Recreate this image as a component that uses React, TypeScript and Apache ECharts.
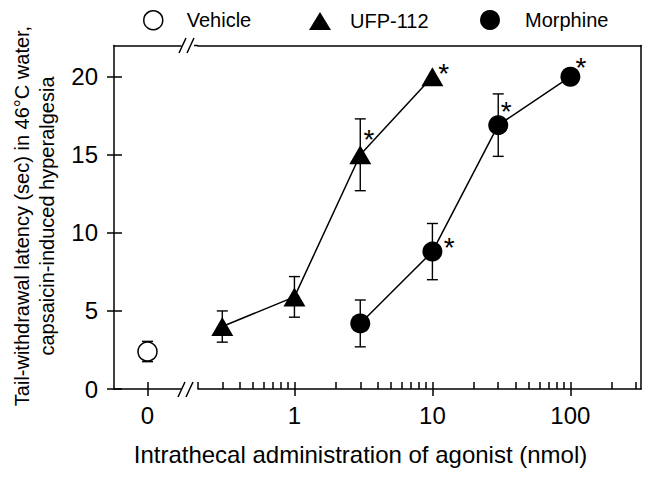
import React, { useEffect, useRef } from 'react';
import * as echarts from 'echarts';

// ---- data ----
const vehicleDose = [0];
const vehicleMean = [2.4];
const vehicleSem = [0.65];

const ufpDose = [0.3, 1, 3, 10];
const ufpMean = [4.0, 5.9, 15.0, 20.0];
const ufpSem = [1.0, 1.3, 2.3, 0];
const ufpSignificant = [false, false, true, true];

const morphineDose = [3, 10, 30, 100];
const morphineMean = [4.2, 8.8, 16.9, 20.0];
const morphineSem = [1.5, 1.8, 2.0, 0];
const morphineSignificant = [false, true, true, true];

// ---- ticks ----
const yTicks = [0, 5, 10, 15, 20];
const xBreakTicks = [0];
const xMajorTicks = [1, 10, 100];
const xMinorTicks = [
  0.2, 0.3, 0.4, 0.5, 0.6, 0.7, 0.8, 0.9,
  2, 3, 4, 5, 6, 7, 8, 9,
  20, 30, 40, 50, 60, 70, 80, 90,
  200, 300,
];

// ---- text ----
const yTitle = 'Tail-withdrawal latency (sec) in 46°C water,\ncapsaicin-induced hyperalgesia';
const xTitle = 'Intrathecal administration of agonist (nmol)';

// ---- styling (asterisk label offsets in px) ----
const ufpStarOffset = [[0, 0], [0, 0], [8.6, -15.5], [11.3, -3.5]];
const morphineStarOffset = [[0, 0], [16.7, -4], [8, -13.5], [10.7, -9.5]];

const FONT = '"Liberation Sans", Arial, Helvetica, sans-serif';
const BLACK = '#000';
const lineStyle = { color: BLACK, width: 1.5 };
const TICK_FONT = 24;

const errorBarItem = (params: any, api: any) => {
  const x = api.value(0);
  const lo = api.value(1);
  const hi = api.value(2);
  if (!(hi - lo > 0)) return { type: 'group', children: [] };
  const top = api.coord([x, hi]);
  const bot = api.coord([x, lo]);
  const w = 5.5;
  const style = { stroke: BLACK, lineWidth: 1.4, fill: 'none' };
  return {
    type: 'group',
    children: [
      { type: 'line', shape: { x1: top[0], y1: top[1], x2: bot[0], y2: bot[1] }, style },
      { type: 'line', shape: { x1: top[0] - w, y1: top[1], x2: top[0] + w, y2: top[1] }, style },
      { type: 'line', shape: { x1: bot[0] - w, y1: bot[1], x2: bot[0] + w, y2: bot[1] }, style },
    ],
  };
};

const starLabel = (show: boolean, offset: number[]) =>
  show
    ? {
        show: true,
        formatter: '*',
        position: 'inside',
        offset,
        fontSize: 28,
        fontFamily: FONT,
        color: BLACK,
        textBorderWidth: 0,
        align: 'center',
        verticalAlign: 'middle',
      }
    : { show: false };

export default function App() {
  const ref = useRef<HTMLDivElement>(null);

  useEffect(() => {
    document.body.style.margin = '0';
    if (!ref.current) return;
    const chart = echarts.init(ref.current, undefined, { renderer: 'svg' });

    const logMin = 0.2;
    const logMax = 325;

    const option: any = {
      animation: false,
      backgroundColor: '#fff',
      textStyle: { fontFamily: FONT, color: BLACK },
      grid: [
        { left: 114, width: 67, top: 45.5, height: 343.5 },
        { left: 198, right: 10, top: 45.5, height: 343.5 },
      ],
      legend: [
        {
          data: [{ name: 'Vehicle', icon: 'circle', itemStyle: { color: '#fff', borderColor: BLACK, borderWidth: 1.5, opacity: 1 } }],
          left: 143, top: 10, padding: 0, itemWidth: 19, itemHeight: 19, selectedMode: false,
          textStyle: { fontSize: 20, fontFamily: FONT, color: BLACK, padding: [0, 0, 0, 19] },
        },
        {
          data: [{ name: 'UFP-112', icon: 'triangle', itemStyle: { color: BLACK, borderWidth: 0 } }],
          left: 309, top: 11, padding: 0, itemWidth: 22, itemHeight: 18, selectedMode: false,
          textStyle: { fontSize: 20, fontFamily: FONT, color: BLACK, padding: [0, 0, 0, 14] },
        },
        {
          data: [{ name: 'Morphine', icon: 'circle', itemStyle: { color: BLACK, borderWidth: 0 } }],
          left: 480, top: 10, padding: 0, itemWidth: 20, itemHeight: 20, selectedMode: false,
          textStyle: { fontSize: 20, fontFamily: FONT, color: BLACK, padding: [0, 0, 0, 20] },
        },
      ],
      xAxis: [
        {
          gridIndex: 0, type: 'value', min: -1, max: 1, position: 'bottom',
          axisLine: { show: true, onZero: false, lineStyle },
          axisTick: { show: true, inside: false, length: 7, lineStyle, customValues: xBreakTicks },
          axisLabel: { show: true, customValues: xBreakTicks, formatter: (v: number) => String(v), fontSize: TICK_FONT, fontFamily: FONT, color: BLACK, margin: 14 },
          splitLine: { show: false },
        },
        {
          gridIndex: 0, type: 'value', min: -1, max: 1, position: 'bottom',
          axisLine: { show: false, onZero: false },
          axisTick: { show: true, inside: true, length: 7, lineStyle, customValues: xBreakTicks },
          axisLabel: { show: false },
          splitLine: { show: false },
        },
        {
          gridIndex: 0, type: 'value', min: -1, max: 1, position: 'top',
          axisLine: { show: true, onZero: false, lineStyle },
          axisTick: { show: false }, axisLabel: { show: false }, splitLine: { show: false },
        },
        {
          gridIndex: 1, type: 'log', logBase: 10, min: logMin, max: logMax, position: 'bottom',
          axisLine: { show: true, onZero: false, lineStyle },
          axisTick: { show: true, inside: false, length: 7, lineStyle, customValues: xMajorTicks },
          axisLabel: { show: true, customValues: xMajorTicks, formatter: (v: number) => String(Math.round(v)), fontSize: TICK_FONT, fontFamily: FONT, color: BLACK, margin: 14 },
          splitLine: { show: false }, minorTick: { show: false },
        },
        {
          gridIndex: 1, type: 'log', logBase: 10, min: logMin, max: logMax, position: 'bottom',
          axisLine: { show: false, onZero: false },
          axisTick: { show: true, inside: true, length: 7, lineStyle, customValues: [...xMinorTicks, ...xMajorTicks] },
          axisLabel: { show: false },
          splitLine: { show: false },
        },
        {
          gridIndex: 1, type: 'log', logBase: 10, min: logMin, max: logMax, position: 'top',
          axisLine: { show: true, onZero: false, lineStyle },
          axisTick: { show: false }, axisLabel: { show: false }, splitLine: { show: false },
        },
      ],
      yAxis: [
        {
          gridIndex: 0, type: 'value', min: 0, max: 22, position: 'left',
          axisLine: { show: true, onZero: false, lineStyle },
          axisTick: { show: true, inside: false, length: 7, lineStyle, customValues: yTicks },
          axisLabel: { show: true, customValues: yTicks, fontSize: TICK_FONT, fontFamily: FONT, color: BLACK, margin: 16 },
          splitLine: { show: false },
        },
        {
          gridIndex: 0, type: 'value', min: 0, max: 22, position: 'left',
          axisLine: { show: false, onZero: false },
          axisTick: { show: true, inside: true, length: 8, lineStyle, customValues: yTicks },
          axisLabel: { show: false },
          splitLine: { show: false },
        },
        {
          gridIndex: 1, type: 'value', min: 0, max: 22, position: 'right',
          axisLine: { show: true, onZero: false, lineStyle },
          axisTick: { show: false }, axisLabel: { show: false }, splitLine: { show: false },
        },
      ],
      series: [
        {
          name: 'Vehicle SEM', type: 'custom', xAxisIndex: 0, yAxisIndex: 0, z: 1, silent: true,
          renderItem: errorBarItem, encode: { x: 0, y: [1, 2] },
          data: vehicleDose.map((d, i) => [d, vehicleMean[i] - vehicleSem[i], vehicleMean[i] + vehicleSem[i]]),
        },
        {
          name: 'Vehicle', type: 'scatter', xAxisIndex: 0, yAxisIndex: 0, z: 3,
          symbol: 'circle', symbolSize: 19,
          itemStyle: { color: '#fff', borderColor: BLACK, borderWidth: 1.5, opacity: 1 },
          data: vehicleDose.map((d, i) => [d, vehicleMean[i]]),
        },
        {
          name: 'UFP-112 SEM', type: 'custom', xAxisIndex: 3, yAxisIndex: 2, z: 1, silent: true,
          renderItem: errorBarItem, encode: { x: 0, y: [1, 2] },
          data: ufpDose.map((d, i) => [d, ufpMean[i] - ufpSem[i], ufpMean[i] + ufpSem[i]]),
        },
        {
          name: 'UFP-112', type: 'line', xAxisIndex: 3, yAxisIndex: 2, z: 3,
          symbol: 'triangle', symbolSize: [22, 19], showAllSymbol: true,
          itemStyle: { color: BLACK, borderWidth: 0 },
          lineStyle: { color: BLACK, width: 1.5 },
          data: ufpDose.map((d, i) => ({ value: [d, ufpMean[i]], label: starLabel(ufpSignificant[i], ufpStarOffset[i]) })),
        },
        {
          name: 'Morphine SEM', type: 'custom', xAxisIndex: 3, yAxisIndex: 2, z: 1, silent: true,
          renderItem: errorBarItem, encode: { x: 0, y: [1, 2] },
          data: morphineDose.map((d, i) => [d, morphineMean[i] - morphineSem[i], morphineMean[i] + morphineSem[i]]),
        },
        {
          name: 'Morphine', type: 'line', xAxisIndex: 3, yAxisIndex: 2, z: 3,
          symbol: 'circle', symbolSize: 20, showAllSymbol: true,
          itemStyle: { color: BLACK, borderWidth: 0 },
          lineStyle: { color: BLACK, width: 1.5 },
          data: morphineDose.map((d, i) => ({ value: [d, morphineMean[i]], label: starLabel(morphineSignificant[i], morphineStarOffset[i]) })),
        },
      ],
      graphic: [
        { type: 'line', shape: { x1: 179, y1: 53, x2: 186, y2: 38 }, style: { stroke: BLACK, lineWidth: 1.5 } },
        { type: 'line', shape: { x1: 187, y1: 53, x2: 194, y2: 38 }, style: { stroke: BLACK, lineWidth: 1.5 } },
        { type: 'line', shape: { x1: 194, y1: 45.5, x2: 198, y2: 45.5 }, style: { stroke: BLACK, lineWidth: 1.5 } },
        { type: 'line', shape: { x1: 178, y1: 397, x2: 185, y2: 382 }, style: { stroke: BLACK, lineWidth: 1.5 } },
        { type: 'line', shape: { x1: 186, y1: 397, x2: 193, y2: 382 }, style: { stroke: BLACK, lineWidth: 1.5 } },
        {
          type: 'text', x: 34, y: 216, rotation: Math.PI / 2,
          style: { text: yTitle, fontSize: 20, fontFamily: FONT, fill: BLACK, align: 'center', verticalAlign: 'middle', lineHeight: 25 },
        },
        {
          type: 'text', x: 360.5, y: 454,
          style: { text: xTitle, fontSize: 24, fontFamily: FONT, fill: BLACK, align: 'center', verticalAlign: 'middle' },
        },
      ],
    };

    chart.setOption(option);
    return () => chart.dispose();
  }, []);

  return <div ref={ref} style={{ width: 651, height: 478 }} />;
}
